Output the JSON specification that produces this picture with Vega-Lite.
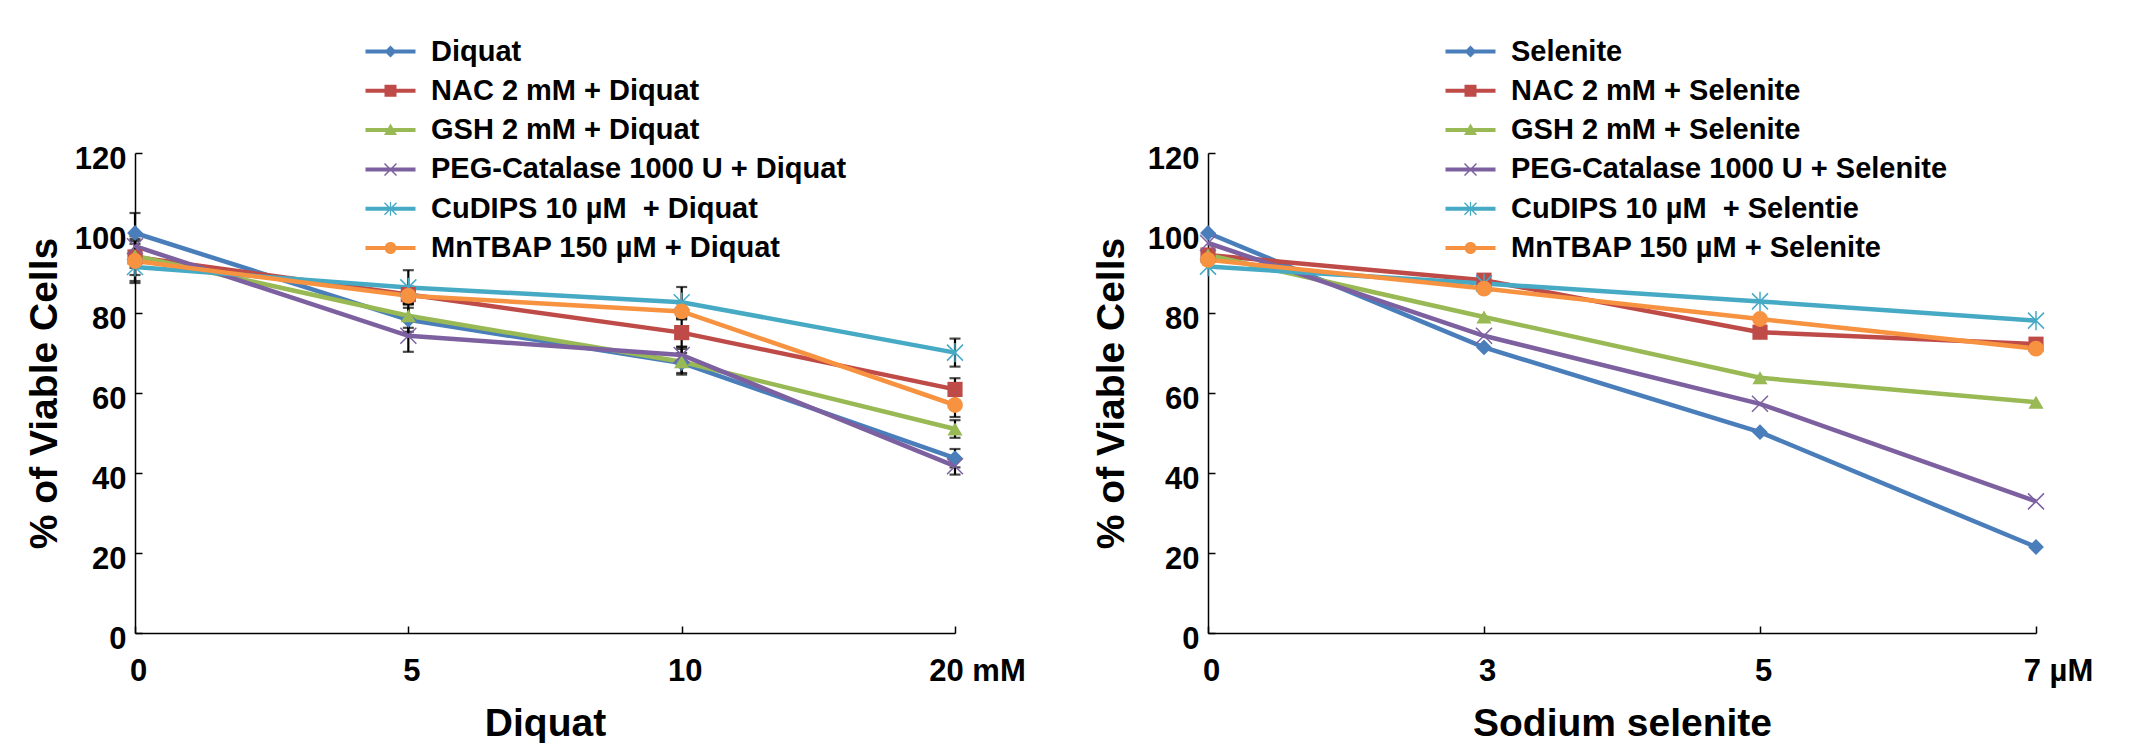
{
  "$schema": "https://vega.github.io/schema/vega-lite/v6.json",
  "background": "white",
  "padding": {"left": 24, "top": 37, "right": 0, "bottom": 0},
  "autosize": {"type": "pad"},
  "bounds": "flush",
  "spacing": 253,
  "config": {
    "view": {"stroke": null},
    "font": "Liberation Sans",
    "axis": {
      "domainColor": "black", "domainWidth": 1.5, "tickColor": "black", "tickWidth": 1.5, "tickSize": -7,
      "grid": false, "labelFont": "Liberation Sans", "labelFontSize": 31, "labelFontWeight": "bold", "labelColor": "black",
      "titleFont": "Liberation Sans", "titleFontSize": 39, "titleFontWeight": "bold", "titleColor": "black"
    },
    "legend": {
      "labelFont": "Liberation Sans", "labelFontSize": 29, "labelFontWeight": "bold", "labelColor": "black",
      "labelLimit": 0, "symbolSize": 400, "symbolStrokeWidth": 0, "labelOffset": 26, "rowPadding": 9.3, "padding": 0
    }
  },
  "datasets": {
    "diquat": [
      {"series": "Diquat", "dose": "0", "value": 100, "err": 5},
      {"series": "Diquat", "dose": "5", "value": 78.3, "err": 3},
      {"series": "Diquat", "dose": "10", "value": 67.5, "err": 2.5},
      {"series": "Diquat", "dose": "20", "value": 43.7, "err": 2.3},
      {"series": "NAC 2 mM + Diquat", "dose": "0", "value": 94, "err": 4.5},
      {"series": "NAC 2 mM + Diquat", "dose": "5", "value": 84.6, "err": 2},
      {"series": "NAC 2 mM + Diquat", "dose": "10", "value": 75.1, "err": 3.5},
      {"series": "NAC 2 mM + Diquat", "dose": "20", "value": 60.9, "err": 2.8},
      {"series": "GSH 2 mM + Diquat", "dose": "0", "value": 94.3, "err": 3},
      {"series": "GSH 2 mM + Diquat", "dose": "5", "value": 79.3, "err": 3},
      {"series": "GSH 2 mM + Diquat", "dose": "10", "value": 67.8, "err": 3.2},
      {"series": "GSH 2 mM + Diquat", "dose": "20", "value": 51, "err": 2.2},
      {"series": "PEG-Catalase 1000 U + Diquat", "dose": "0", "value": 96.7, "err": 2.5},
      {"series": "PEG-Catalase 1000 U + Diquat", "dose": "5", "value": 74.3, "err": 4},
      {"series": "PEG-Catalase 1000 U + Diquat", "dose": "10", "value": 69.5, "err": 2},
      {"series": "PEG-Catalase 1000 U + Diquat", "dose": "20", "value": 41.7, "err": 2.1},
      {"series": "CuDIPS 10 µM\u00a0 + Diquat", "dose": "0", "value": 91.5, "err": 4},
      {"series": "CuDIPS 10 µM\u00a0 + Diquat", "dose": "5", "value": 86.4, "err": 4.3},
      {"series": "CuDIPS 10 µM\u00a0 + Diquat", "dose": "10", "value": 82.7, "err": 3.8},
      {"series": "CuDIPS 10 µM\u00a0 + Diquat", "dose": "20", "value": 70.1, "err": 3.5},
      {"series": "MnTBAP 150 µM + Diquat", "dose": "0", "value": 93, "err": 5},
      {"series": "MnTBAP 150 µM + Diquat", "dose": "5", "value": 84.3, "err": 2},
      {"series": "MnTBAP 150 µM + Diquat", "dose": "10", "value": 80.4, "err": 2},
      {"series": "MnTBAP 150 µM + Diquat", "dose": "20", "value": 57, "err": 3}
    ],
    "selenite": [
      {"series": "Selenite", "dose": "0", "value": 100},
      {"series": "Selenite", "dose": "3", "value": 71.4},
      {"series": "Selenite", "dose": "5", "value": 50.2},
      {"series": "Selenite", "dose": "7", "value": 21.5},
      {"series": "NAC 2 mM + Selenite", "dose": "0", "value": 94.5},
      {"series": "NAC 2 mM + Selenite", "dose": "3", "value": 88.2},
      {"series": "NAC 2 mM + Selenite", "dose": "5", "value": 75.2},
      {"series": "NAC 2 mM + Selenite", "dose": "7", "value": 72.2},
      {"series": "GSH 2 mM + Selenite", "dose": "0", "value": 94.5},
      {"series": "GSH 2 mM + Selenite", "dose": "3", "value": 79},
      {"series": "GSH 2 mM + Selenite", "dose": "5", "value": 63.8},
      {"series": "GSH 2 mM + Selenite", "dose": "7", "value": 57.7},
      {"series": "PEG-Catalase 1000 U + Selenite", "dose": "0", "value": 97.5},
      {"series": "PEG-Catalase 1000 U + Selenite", "dose": "3", "value": 74.3},
      {"series": "PEG-Catalase 1000 U + Selenite", "dose": "5", "value": 57.3},
      {"series": "PEG-Catalase 1000 U + Selenite", "dose": "7", "value": 32.9},
      {"series": "CuDIPS 10 µM\u00a0 + Selentie", "dose": "0", "value": 91.6},
      {"series": "CuDIPS 10 µM\u00a0 + Selentie", "dose": "3", "value": 87.4},
      {"series": "CuDIPS 10 µM\u00a0 + Selentie", "dose": "5", "value": 82.9},
      {"series": "CuDIPS 10 µM\u00a0 + Selentie", "dose": "7", "value": 78.1},
      {"series": "MnTBAP 150 µM + Selenite", "dose": "0", "value": 93.3},
      {"series": "MnTBAP 150 µM + Selenite", "dose": "3", "value": 86.1},
      {"series": "MnTBAP 150 µM + Selenite", "dose": "5", "value": 78.5},
      {"series": "MnTBAP 150 µM + Selenite", "dose": "7", "value": 71.1}
    ]
  },
  "resolve": {"scale": {"color": "independent"}, "legend": {"color": "independent"}},
  "hconcat": [
    {
      "width": 820, "height": 480,
      "data": {"name": "diquat"},
      "encoding": {
        "x": {"field": "dose", "type": "ordinal", "sort": ["0", "5", "10", "20"], "scale": {"type": "point", "padding": 0},
          "axis": {"title": "Diquat", "labelAngle": 0, "labelExpr": "datum.value == 20 ? '20 mM' : datum.label",
            "labelOffset": {"condition": {"test": "datum.value == 20", "value": 22}, "value": 3},
            "labelBaseline": "alphabetic", "labelPadding": 54, "titleY": 102, "titleBaseline": "alphabetic"}},
        "y": {"field": "value", "type": "quantitative", "scale": {"domain": [0, 120], "nice": false},
          "axis": {"title": "% of Viable Cells", "values": [0, 20, 40, 60, 80, 100, 120], "labelPadding": 16, "labelOffset": 6,
            "titleX": -91, "titleY": 240, "titleBaseline": "middle", "titleAngle": -90, "titleAlign": "center"}}
      },
      "layer": [
        {"mark": {"type": "errorbar", "color": "black", "ticks": {"size": 11, "thickness": 2.2, "color": "black"}, "rule": {"strokeWidth": 2.2, "color": "black"}},
          "encoding": {"yError": {"field": "err"}}},
        {"mark": {"type": "line", "strokeWidth": 4.5},
          "encoding": {"color": {"field": "series", "type": "nominal",
            "scale": {"domain": ["Diquat", "NAC 2 mM + Diquat", "GSH 2 mM + Diquat", "PEG-Catalase 1000 U + Diquat", "CuDIPS 10 µM\u00a0 + Diquat", "MnTBAP 150 µM + Diquat"],
              "range": ["#4A7EBB", "#BE4B48", "#98B954", "#7D60A0", "#46AAC5", "#F69240"]},
            "legend": {"orient": "none", "legendX": 241, "legendY": -116, "title": null,
              "encode": {"symbols": {"update": {
                "shape": {"signal": "indexof(datum.value,'NAC')===0 ? 'M-2.5,-0.2H2.5V0.2H-2.5Z M-0.6,-0.6H0.6V0.6H-0.6Z' : indexof(datum.value,'GSH')===0 ? 'M-2.5,-0.2H2.5V0.2H-2.5Z M0,-0.65L0.65,0.5H-0.65Z' : indexof(datum.value,'PEG')===0 ? 'M-2.5,-0.2H2.5V0.2H-2.5Z M-0.65,-0.55L-0.55,-0.65L0.65,0.55L0.55,0.65Z M0.55,-0.65L0.65,-0.55L-0.55,0.65L-0.65,0.55Z' : indexof(datum.value,'CuDIPS')===0 ? 'M-2.5,-0.2H2.5V0.2H-2.5Z M-0.65,-0.55L-0.55,-0.65L0.65,0.55L0.55,0.65Z M0.55,-0.65L0.65,-0.55L-0.55,0.65L-0.65,0.55Z M-0.06,-0.7H0.06V0.7H-0.06Z' : indexof(datum.value,'MnTBAP')===0 ? 'M-2.5,-0.2H2.5V0.2H-2.5Z M-0.6,0A0.6,0.6,0,1,1,0.6,0A0.6,0.6,0,1,1,-0.6,0Z' : 'M-2.5,-0.2H2.5V0.2H-2.5Z M0,-0.6L0.6,0L0,0.6L-0.6,0Z'"},
                "fill": {"signal": "indexof(datum.value,'NAC')===0 ? '#BE4B48' : indexof(datum.value,'GSH')===0 ? '#98B954' : indexof(datum.value,'PEG')===0 ? '#7D60A0' : indexof(datum.value,'CuDIPS')===0 ? '#46AAC5' : indexof(datum.value,'MnTBAP')===0 ? '#F69240' : '#4A7EBB'"},
                "stroke": {"value": "transparent"}, "strokeWidth": {"value": 0}, "opacity": {"value": 1}, "fillOpacity": {"value": 1}}}}}}}},
        {"transform": [{"filter": {"field": "series", "equal": "Diquat"}}],
          "mark": {"type": "point", "shape": "diamond", "filled": true, "size": 250, "opacity": 1},
          "encoding": {"color": {"field": "series", "type": "nominal", "legend": null}}},
        {"transform": [{"filter": {"field": "series", "equal": "NAC 2 mM + Diquat"}}],
          "mark": {"type": "point", "shape": "square", "filled": true, "size": 230, "opacity": 1},
          "encoding": {"color": {"field": "series", "type": "nominal", "legend": null}}},
        {"transform": [{"filter": {"field": "series", "equal": "GSH 2 mM + Diquat"}}],
          "mark": {"type": "point", "shape": "triangle-up", "filled": true, "size": 230, "opacity": 1},
          "encoding": {"color": {"field": "series", "type": "nominal", "legend": null}}},
        {"transform": [{"filter": {"field": "series", "equal": "PEG-Catalase 1000 U + Diquat"}}],
          "mark": {"type": "point", "shape": "M-1,-1L1,1M-1,1L1,-1", "filled": false, "size": 256, "strokeWidth": 1.5, "opacity": 1},
          "encoding": {"color": {"field": "series", "type": "nominal", "legend": null}}},
        {"transform": [{"filter": {"field": "series", "equal": "CuDIPS 10 µM\u00a0 + Diquat"}}],
          "mark": {"type": "point", "shape": "M-1,-1L1,1M-1,1L1,-1M0,-1.2L0,1.2", "filled": false, "size": 256, "strokeWidth": 1.5, "opacity": 1},
          "encoding": {"color": {"field": "series", "type": "nominal", "legend": null}}},
        {"transform": [{"filter": {"field": "series", "equal": "MnTBAP 150 µM + Diquat"}}],
          "mark": {"type": "point", "shape": "circle", "filled": true, "size": 250, "opacity": 1},
          "encoding": {"color": {"field": "series", "type": "nominal", "legend": null}}}
      ]
    },
    {
      "width": 828, "height": 480,
      "data": {"name": "selenite"},
      "encoding": {
        "x": {"field": "dose", "type": "ordinal", "sort": ["0", "3", "5", "7"], "scale": {"type": "point", "padding": 0},
          "axis": {"title": "Sodium selenite", "labelAngle": 0, "labelExpr": "datum.value == 7 ? '7 µM' : datum.label",
            "labelOffset": {"condition": {"test": "datum.value == 7", "value": 22}, "value": 3},
            "labelBaseline": "alphabetic", "labelPadding": 54, "titleY": 102, "titleBaseline": "alphabetic"}},
        "y": {"field": "value", "type": "quantitative", "scale": {"domain": [0, 120], "nice": false},
          "axis": {"title": "% of Viable Cells", "values": [0, 20, 40, 60, 80, 100, 120], "labelPadding": 16, "labelOffset": 6,
            "titleX": -97, "titleY": 240, "titleBaseline": "middle", "titleAngle": -90, "titleAlign": "center"}}
      },
      "layer": [
        {"mark": {"type": "line", "strokeWidth": 4.5},
          "encoding": {"color": {"field": "series", "type": "nominal",
            "scale": {"domain": ["Selenite", "NAC 2 mM + Selenite", "GSH 2 mM + Selenite", "PEG-Catalase 1000 U + Selenite", "CuDIPS 10 µM\u00a0 + Selentie", "MnTBAP 150 µM + Selenite"],
              "range": ["#4A7EBB", "#BE4B48", "#98B954", "#7D60A0", "#46AAC5", "#F69240"]},
            "legend": {"orient": "none", "legendX": 248, "legendY": -116, "title": null,
              "encode": {"symbols": {"update": {
                "shape": {"signal": "indexof(datum.value,'NAC')===0 ? 'M-2.5,-0.2H2.5V0.2H-2.5Z M-0.6,-0.6H0.6V0.6H-0.6Z' : indexof(datum.value,'GSH')===0 ? 'M-2.5,-0.2H2.5V0.2H-2.5Z M0,-0.65L0.65,0.5H-0.65Z' : indexof(datum.value,'PEG')===0 ? 'M-2.5,-0.2H2.5V0.2H-2.5Z M-0.65,-0.55L-0.55,-0.65L0.65,0.55L0.55,0.65Z M0.55,-0.65L0.65,-0.55L-0.55,0.65L-0.65,0.55Z' : indexof(datum.value,'CuDIPS')===0 ? 'M-2.5,-0.2H2.5V0.2H-2.5Z M-0.65,-0.55L-0.55,-0.65L0.65,0.55L0.55,0.65Z M0.55,-0.65L0.65,-0.55L-0.55,0.65L-0.65,0.55Z M-0.06,-0.7H0.06V0.7H-0.06Z' : indexof(datum.value,'MnTBAP')===0 ? 'M-2.5,-0.2H2.5V0.2H-2.5Z M-0.6,0A0.6,0.6,0,1,1,0.6,0A0.6,0.6,0,1,1,-0.6,0Z' : 'M-2.5,-0.2H2.5V0.2H-2.5Z M0,-0.6L0.6,0L0,0.6L-0.6,0Z'"},
                "fill": {"signal": "indexof(datum.value,'NAC')===0 ? '#BE4B48' : indexof(datum.value,'GSH')===0 ? '#98B954' : indexof(datum.value,'PEG')===0 ? '#7D60A0' : indexof(datum.value,'CuDIPS')===0 ? '#46AAC5' : indexof(datum.value,'MnTBAP')===0 ? '#F69240' : '#4A7EBB'"},
                "stroke": {"value": "transparent"}, "strokeWidth": {"value": 0}, "opacity": {"value": 1}, "fillOpacity": {"value": 1}}}}}}}},
        {"transform": [{"filter": {"field": "series", "equal": "Selenite"}}],
          "mark": {"type": "point", "shape": "diamond", "filled": true, "size": 250, "opacity": 1},
          "encoding": {"color": {"field": "series", "type": "nominal", "legend": null}}},
        {"transform": [{"filter": {"field": "series", "equal": "NAC 2 mM + Selenite"}}],
          "mark": {"type": "point", "shape": "square", "filled": true, "size": 230, "opacity": 1},
          "encoding": {"color": {"field": "series", "type": "nominal", "legend": null}}},
        {"transform": [{"filter": {"field": "series", "equal": "GSH 2 mM + Selenite"}}],
          "mark": {"type": "point", "shape": "triangle-up", "filled": true, "size": 230, "opacity": 1},
          "encoding": {"color": {"field": "series", "type": "nominal", "legend": null}}},
        {"transform": [{"filter": {"field": "series", "equal": "PEG-Catalase 1000 U + Selenite"}}],
          "mark": {"type": "point", "shape": "M-1,-1L1,1M-1,1L1,-1", "filled": false, "size": 256, "strokeWidth": 1.5, "opacity": 1},
          "encoding": {"color": {"field": "series", "type": "nominal", "legend": null}}},
        {"transform": [{"filter": {"field": "series", "equal": "CuDIPS 10 µM\u00a0 + Selentie"}}],
          "mark": {"type": "point", "shape": "M-1,-1L1,1M-1,1L1,-1M0,-1.2L0,1.2", "filled": false, "size": 256, "strokeWidth": 1.5, "opacity": 1},
          "encoding": {"color": {"field": "series", "type": "nominal", "legend": null}}},
        {"transform": [{"filter": {"field": "series", "equal": "MnTBAP 150 µM + Selenite"}}],
          "mark": {"type": "point", "shape": "circle", "filled": true, "size": 250, "opacity": 1},
          "encoding": {"color": {"field": "series", "type": "nominal", "legend": null}}}
      ]
    }
  ]
}
